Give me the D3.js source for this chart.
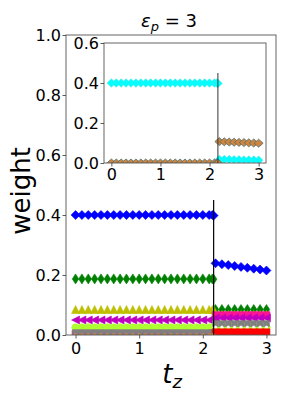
<!DOCTYPE html>
<html>
<head>
<meta charset="utf-8">
<script src="https://cdn.jsdelivr.net/npm/d3@7"></script>
<style>
  body { margin: 0; background: #fff; }
  text { font-family: "DejaVu Sans", sans-serif; }
</style>
</head>
<body>
<svg id="chart" width="283" height="398"></svg>
<script>
// data
var tzBefore = [0, 0.1, 0.2, 0.3, 0.4, 0.5, 0.6, 0.7, 0.8, 0.9, 1.0, 1.1, 1.2, 1.3, 1.4, 1.5, 1.6, 1.7, 1.8, 1.9, 2.0, 2.1, 2.15, 2.17];
var tzAfter = [2.2, 2.3, 2.4, 2.5, 2.6, 2.7, 2.8, 2.9, 3.0];
var tzJump = 2.17;
var jumpTop = 0.45;

var blueBefore = [0.4, 0.4, 0.4, 0.4, 0.4, 0.4, 0.4, 0.4, 0.4, 0.4, 0.4, 0.4, 0.4, 0.4, 0.4, 0.4, 0.4, 0.4, 0.4, 0.4, 0.4, 0.4, 0.4, 0.398];
var blueAfter = [0.239, 0.236, 0.233, 0.230, 0.227, 0.224, 0.221, 0.218, 0.215];
var greenBefore = [0.187, 0.187, 0.187, 0.187, 0.187, 0.187, 0.187, 0.187, 0.187, 0.187, 0.187, 0.187, 0.187, 0.187, 0.187, 0.187, 0.187, 0.187, 0.187, 0.187, 0.187, 0.187, 0.187, 0.186];
var greenAfter = [0.085, 0.085, 0.085, 0.085, 0.085, 0.085, 0.085, 0.085, 0.085];
var oliveBefore = [0.085, 0.085, 0.085, 0.085, 0.085, 0.085, 0.085, 0.085, 0.085, 0.085, 0.085, 0.085, 0.085, 0.085, 0.085, 0.085, 0.085, 0.085, 0.085, 0.085, 0.085, 0.085, 0.085, 0.085];
var oliveAfter = [0.068, 0.068, 0.068, 0.068, 0.068, 0.068, 0.068, 0.068, 0.068];
var pinkBefore = [0.004, 0.004, 0.004, 0.004, 0.004, 0.004, 0.004, 0.004, 0.004, 0.004, 0.004, 0.004, 0.004, 0.004, 0.004, 0.004, 0.004, 0.004, 0.004, 0.004, 0.004, 0.004, 0.004, 0.004];
var pinkAfter = [0.066, 0.066, 0.066, 0.066, 0.066, 0.066, 0.066, 0.066, 0.066];
var magentaBefore = [0.05, 0.05, 0.05, 0.05, 0.05, 0.05, 0.05, 0.05, 0.05, 0.05, 0.05, 0.05, 0.05, 0.05, 0.05, 0.05, 0.05, 0.05, 0.05, 0.05, 0.05, 0.05, 0.05, 0.05];
var magentaAfter = [0.057, 0.057, 0.057, 0.057, 0.057, 0.057, 0.057, 0.057, 0.057];
var greyBefore = [0.008, 0.008, 0.008, 0.008, 0.008, 0.008, 0.008, 0.008, 0.008, 0.008, 0.008, 0.008, 0.008, 0.008, 0.008, 0.008, 0.008, 0.008, 0.008, 0.008, 0.008, 0.008, 0.008, 0.008];
var greyAfter = [0.038, 0.038, 0.038, 0.038, 0.038, 0.038, 0.038, 0.038, 0.038];
var limeBefore = [0.025, 0.025, 0.025, 0.025, 0.025, 0.025, 0.025, 0.025, 0.025, 0.025, 0.025, 0.025, 0.025, 0.025, 0.025, 0.025, 0.025, 0.025, 0.025, 0.025, 0.025, 0.025, 0.025, 0.025];
var limeAfter = [0.026, 0.026, 0.026, 0.026, 0.026, 0.026, 0.026, 0.026, 0.026];
var redBefore = [0, 0, 0, 0, 0, 0, 0, 0, 0, 0, 0, 0, 0, 0, 0, 0, 0, 0, 0, 0, 0, 0, 0, 0];
var redAfter = [0.009, 0.009, 0.009, 0.009, 0.009, 0.009, 0.009, 0.009, 0.009];
var orangeBefore = [0, 0, 0, 0, 0, 0, 0, 0, 0, 0, 0, 0, 0, 0, 0, 0, 0, 0, 0, 0, 0, 0, 0, 0];

var cyanBefore = [0.4, 0.4, 0.4, 0.4, 0.4, 0.4, 0.4, 0.4, 0.4, 0.4, 0.4, 0.4, 0.4, 0.4, 0.4, 0.4, 0.4, 0.4, 0.4, 0.4, 0.4, 0.4, 0.4, 0.398];
var cyanAfter = [0.018, 0.017, 0.017, 0.016, 0.016, 0.015, 0.015, 0.015, 0.014];
var brownBefore = [0, 0, 0, 0, 0, 0, 0, 0, 0, 0, 0, 0, 0, 0, 0, 0, 0, 0, 0, 0, 0, 0, 0, 0];
var brownAfter = [0.107, 0.106, 0.105, 0.104, 0.103, 0.102, 0.101, 0.100, 0.099];

var mainYTicks = [0, 0.2, 0.4, 0.6, 0.8, 1.0];
var insetYTicks = [0, 0.2, 0.4, 0.6];
var xTicks = [0, 1, 2, 3];

var svg = d3.select("#chart");

// marker shapes centred on 0,0
function diamond(w, h) {
    return "M0," + (-h / 2) + "L" + (w / 2) + ",0L0," + (h / 2) + "L" + (-w / 2) + ",0Z";
}
function triUp(s) {
    return "M0," + (-s / 2) + "L" + (s / 2) + "," + (s / 2) + "L" + (-s / 2) + "," + (s / 2) + "Z";
}
function triLeft(s) {
    return "M" + (-s / 2) + ",0L" + (s / 2) + "," + (-s / 2) + "L" + (s / 2) + "," + (s / 2) + "Z";
}
function square(s) {
    return "M" + (-s / 2) + "," + (-s / 2) + "h" + s + "v" + s + "h" + (-s) + "Z";
}
function circle(r) {
    return d3.symbol(d3.symbolCircle, Math.PI * r * r)();
}

function drawAxes(g, x, y, yTicks, xPad) {
    g.append("g")
        .attr("transform", "translate(0," + y.range()[0] + ")")
        .call(d3.axisBottom(x).tickValues(xTicks).tickFormat(d3.format("d")).tickSize(3.5).tickPadding(xPad))
        .call(function (a) { a.select(".domain").remove(); });
    g.append("g")
        .attr("transform", "translate(" + x.range()[0] + ",0)")
        .call(d3.axisLeft(y).tickValues(yTicks).tickFormat(d3.format(".1f")).tickSize(3.5).tickPadding(1.5))
        .call(function (a) { a.select(".domain").remove(); });
    g.selectAll(".tick text").style("font-size", "16px").attr("fill", "#000").style("font-family", "DejaVu Sans");
    g.selectAll(".tick line").attr("stroke", "#333").attr("stroke-width", 0.8);
}

function drawSeries(g, x, y, series) {
    series.forEach(function (s) {
        g.append("g").selectAll("path")
            .data(s.tz.map(function (t, i) { return [t, s.vals[i]]; }))
            .enter().append("path")
            .attr("transform", function (d) { return "translate(" + x(d[0]) + "," + y(d[1]) + ")"; })
            .attr("d", s.shape)
            .attr("fill", s.fill)
            .attr("stroke", s.stroke || s.fill)
            .attr("stroke-width", s.sw || 0.6);
    });
}

function drawFrame(g, x, y) {
    g.append("rect")
        .attr("x", x.range()[0])
        .attr("y", y.range()[1])
        .attr("width", x.range()[1] - x.range()[0])
        .attr("height", y.range()[0] - y.range()[1])
        .attr("fill", "none")
        .attr("stroke", "#555")
        .attr("stroke-width", 0.9);
}

// main axes
var x = d3.scaleLinear().domain([-0.15, 3.15]).range([66, 276]);
var y = d3.scaleLinear().domain([0, 1]).range([335, 35]);

svg.append("clipPath").attr("id", "clipMain")
    .append("rect").attr("x", 66).attr("y", 35).attr("width", 210).attr("height", 300);

var main = svg.append("g");
var mainPlot = main.append("g").attr("clip-path", "url(#clipMain)");

// red sits underneath before the jump, on top after it
drawSeries(mainPlot, x, y, [
    { tz: tzBefore, vals: redBefore, shape: square(6), fill: "#ff0000" },
    { tz: tzBefore, vals: blueBefore, shape: diamond(9, 9), fill: "#0000ff" },
    { tz: tzAfter, vals: blueAfter, shape: diamond(9, 9), fill: "#0000ff" },
    { tz: tzBefore, vals: greenBefore, shape: diamond(6.5, 10), fill: "#008000" },
    { tz: tzAfter, vals: greenAfter, shape: diamond(6.5, 10), fill: "#008000" },
    { tz: tzBefore, vals: oliveBefore, shape: triUp(8), fill: "#bfbf00" },
    { tz: tzAfter, vals: oliveAfter, shape: triUp(8), fill: "#bfbf00" },
    { tz: tzBefore, vals: pinkBefore, shape: square(7), fill: "#ff1493" },
    { tz: tzAfter, vals: pinkAfter, shape: square(7), fill: "#ff1493" },
    { tz: tzBefore, vals: magentaBefore, shape: triLeft(8), fill: "#bf00bf" },
    { tz: tzAfter, vals: magentaAfter, shape: triLeft(8), fill: "#bf00bf" },
    { tz: tzBefore, vals: limeBefore, shape: circle(3.8), fill: "#adff2f" },
    { tz: tzAfter, vals: limeAfter, shape: circle(3.8), fill: "#adff2f" },
    { tz: tzBefore, vals: greyBefore, shape: square(6), fill: "#808080" },
    { tz: tzAfter, vals: greyAfter, shape: square(6), fill: "#808080" },
    { tz: tzAfter, vals: limeAfter, shape: circle(1.3), fill: "#ffffff", sw: 0 },
    { tz: tzAfter, vals: redAfter, shape: square(7), fill: "#ff0000" },
    { tz: tzBefore, vals: orangeBefore, shape: circle(1.5), fill: "#e08040", sw: 0 }
]);

mainPlot.append("line")
    .attr("x1", x(tzJump)).attr("x2", x(tzJump))
    .attr("y1", y(0)).attr("y2", y(jumpTop))
    .attr("stroke", "#000").attr("stroke-width", 1.2);

drawFrame(main, x, y);
drawAxes(main, x, y, mainYTicks, 4);

// inset axes
var x2 = d3.scaleLinear().domain([-0.15, 3.15]).range([104, 266]);
var y2 = d3.scaleLinear().domain([0, 0.6]).range([163, 43]);

svg.append("clipPath").attr("id", "clipInset")
    .append("rect").attr("x", 104).attr("y", 43).attr("width", 162).attr("height", 120);

var inset = svg.append("g");
inset.append("rect")
    .attr("x", 104).attr("y", 43).attr("width", 162).attr("height", 120)
    .attr("fill", "#fff");
var insetPlot = inset.append("g").attr("clip-path", "url(#clipInset)");

drawSeries(insetPlot, x2, y2, [
    { tz: tzBefore, vals: cyanBefore, shape: diamond(8.5, 8.5), fill: "#00ffff", stroke: "#40e8e8" },
    { tz: tzAfter, vals: cyanAfter, shape: diamond(8.5, 8.5), fill: "#00ffff", stroke: "#40e8e8" },
    { tz: tzBefore, vals: brownBefore, shape: diamond(9, 8), fill: "#cd853f", stroke: "#4f6f6f", sw: 0.8 },
    { tz: tzAfter, vals: brownAfter, shape: diamond(9, 8), fill: "#cd853f", stroke: "#4f6f6f", sw: 0.8 }
]);

insetPlot.append("line")
    .attr("x1", x2(tzJump)).attr("x2", x2(tzJump))
    .attr("y1", y2(0)).attr("y2", y2(jumpTop))
    .attr("stroke", "#333").attr("stroke-width", 1);

drawFrame(inset, x2, y2);
drawAxes(inset, x2, y2, insetYTicks, 2);

// title
var title = svg.append("text")
    .attr("x", 169).attr("y", 27)
    .attr("text-anchor", "middle")
    .style("font-size", "18px");
title.append("tspan").style("font-style", "italic").text("ε");
title.append("tspan").style("font-style", "italic").style("font-size", "13px").attr("dy", 4).text("p");
title.append("tspan").attr("dy", -4).text(" = 3");

// axis labels
svg.append("text")
    .attr("transform", "translate(30,191) rotate(-90)")
    .attr("text-anchor", "middle")
    .style("font-size", "26px")
    .text("weight");

var xl = svg.append("text")
    .attr("x", 172).attr("y", 383)
    .attr("text-anchor", "middle")
    .style("font-size", "26px");
xl.append("tspan").style("font-style", "italic").text("t");
xl.append("tspan").style("font-style", "italic").style("font-size", "18px").attr("dy", 5).text("z");
</script>
</body>
</html>
